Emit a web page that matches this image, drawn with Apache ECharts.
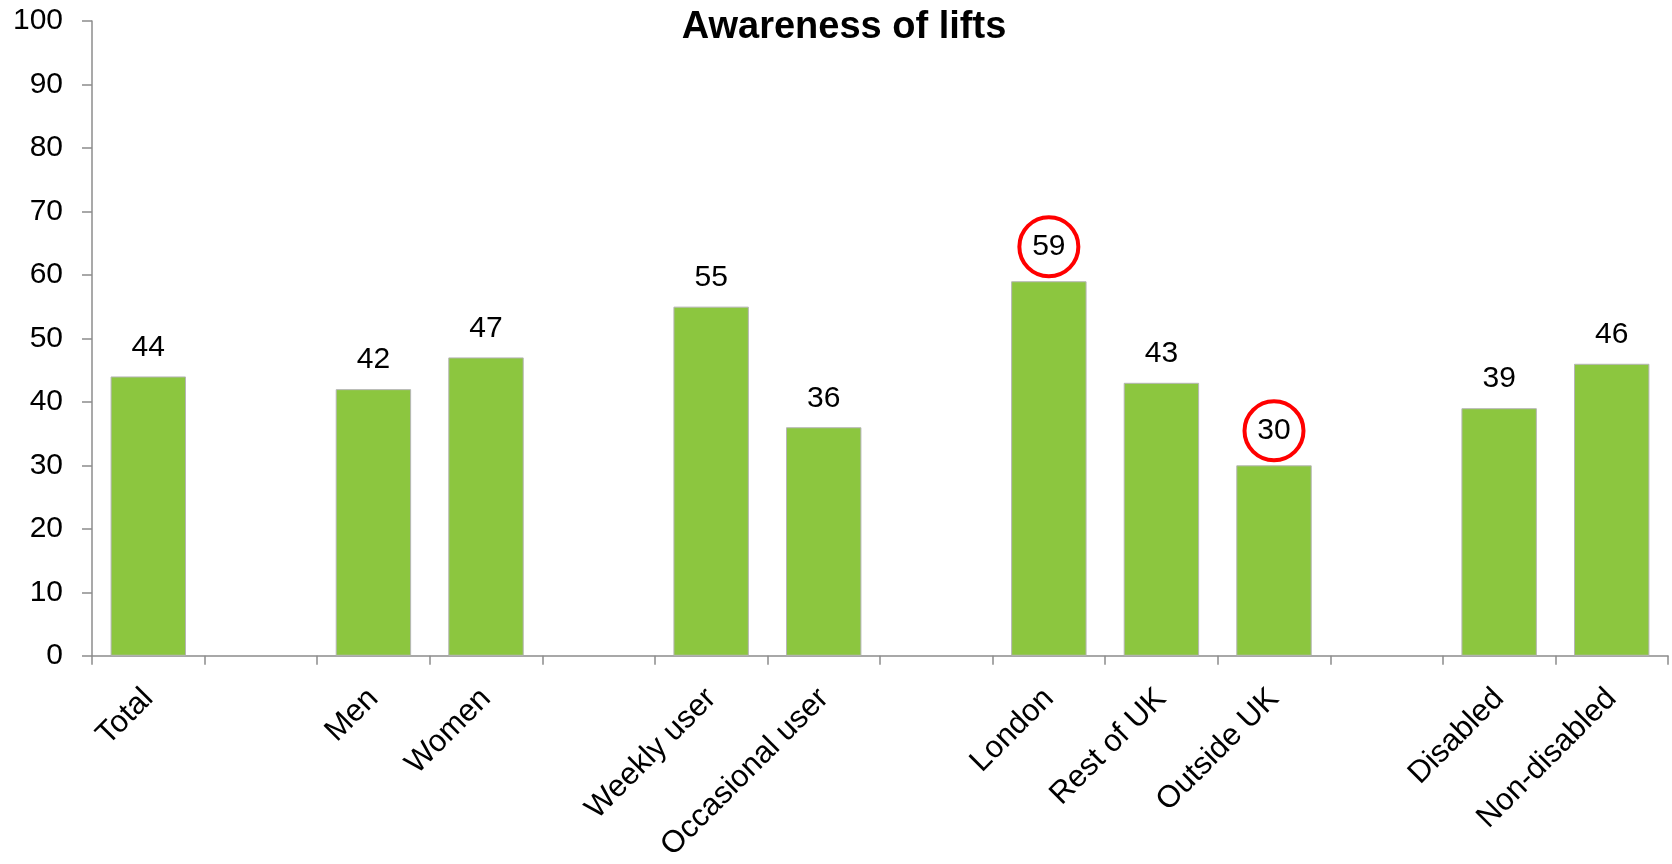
<!DOCTYPE html>
<html>
<head>
<meta charset="utf-8">
<script src="https://cdn.jsdelivr.net/npm/echarts@6/dist/echarts.min.js"></script>
<style>
html,body{margin:0;padding:0;background:#fff;}
#chart{width:1672px;height:864px;}
</style>
</head>
<body>
<div id="chart"></div>
<script>
const titleText = 'Awareness of lifts';
const categories = ['Total', '', 'Men', 'Women', '', 'Weekly user', 'Occasional user', '', 'London', 'Rest of UK', 'Outside UK', '', 'Disabled', 'Non-disabled'];
const values = [44, null, 42, 47, null, 55, 36, null, 59, 43, 30, null, 39, 46];
const circledCategories = ['London', 'Outside UK'];
const yTicks = [0, 10, 20, 30, 40, 50, 60, 70, 80, 90, 100];

const FONT = '"Liberation Sans", Arial, sans-serif';
const chart = echarts.init(document.getElementById('chart'));

const seriesData = values.map((v, i) => {
  if (v === null) return null;
  if (circledCategories.indexOf(categories[i]) >= 0) {
    return {
      value: v,
      label: {
        show: true,
        position: 'top',
        distance: 5,
        width: 59,
        height: 59,
        lineHeight: 59,
        borderColor: '#ff0000',
        borderWidth: 4,
        borderRadius: 32,
        padding: 0
      }
    };
  }
  return v;
});

chart.setOption({
  animation: false,
  backgroundColor: '#ffffff',
  title: {
    text: titleText,
    left: 839,
    top: 4,
    textAlign: 'center',
    textStyle: { fontFamily: FONT, fontWeight: 'bold', fontSize: 38, color: '#000' }
  },
  grid: { left: 92, right: 4, top: 21, bottom: 208, containLabel: false },
  xAxis: {
    type: 'category',
    data: categories,
    boundaryGap: true,
    axisLine: { show: true, lineStyle: { color: '#8c8c8c', width: 1.5 } },
    axisTick: { show: true, length: 9, interval: 0, lineStyle: { color: '#8c8c8c', width: 1.5 } },
    axisLabel: {
      interval: 0,
      rotate: 45,
      margin: 38,
      fontFamily: FONT,
      fontSize: 31,
      color: '#000'
    },
    splitLine: { show: false }
  },
  yAxis: {
    type: 'value',
    min: 0,
    max: 100,
    interval: 10,
    axisLine: { show: true, lineStyle: { color: '#8c8c8c', width: 1.5 } },
    axisTick: { show: true, length: 10, lineStyle: { color: '#8c8c8c', width: 1.5 } },
    axisLabel: {
      margin: 29,
      fontFamily: FONT,
      fontSize: 30,
      color: '#000',
      formatter: function (v) { return yTicks.indexOf(v) >= 0 ? String(v) : ''; }
    },
    splitLine: { show: false }
  },
  series: [{
    type: 'bar',
    data: seriesData,
    barCategoryGap: '33%',
    itemStyle: { color: '#8cc63f', borderColor: '#b5b5b5', borderWidth: 1 },
    label: {
      show: true,
      position: 'top',
      distance: 14,
      fontFamily: FONT,
      fontSize: 30,
      color: '#000'
    }
  }]
});
</script>
</body>
</html>
